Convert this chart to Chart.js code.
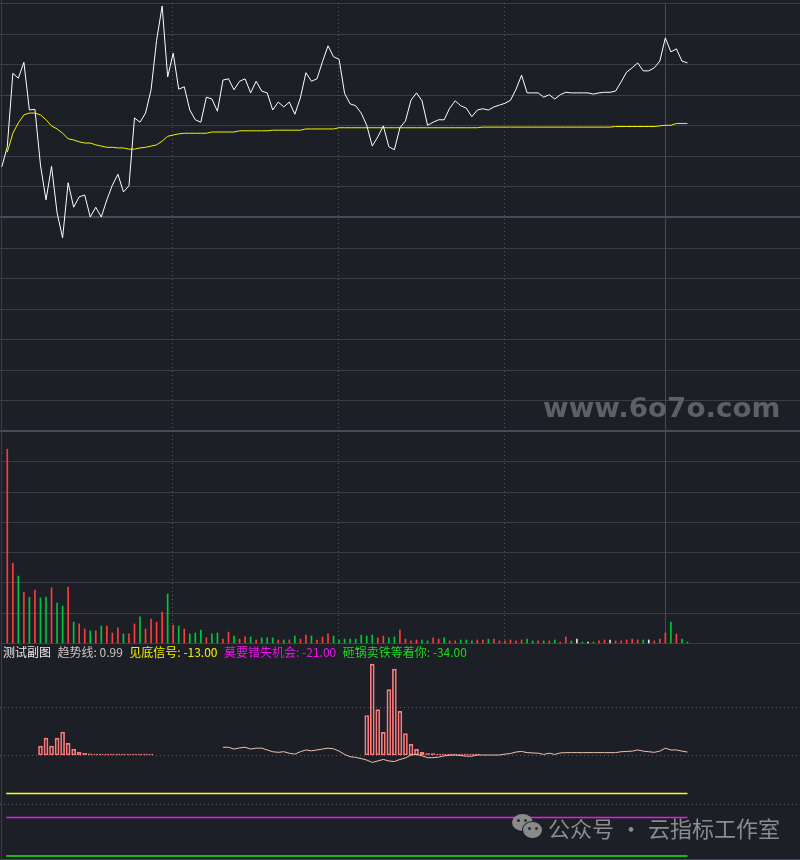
<!DOCTYPE html>
<html lang="zh">
<head>
<meta charset="utf-8">
<title>测试副图</title>
<script src="https://cdn.jsdelivr.net/npm/chart.js@4.4.1/dist/chart.umd.min.js"></script>
<style>
  html, body { margin: 0; padding: 0; background: #1c1f26; }
  #wrap { position: relative; width: 800px; height: 860px; overflow: hidden; background: #1c1f26; }
  canvas { position: absolute; left: 0; }
  #head { position: absolute; left: 3px; top: 645px; font: 12px "Noto Sans CJK SC", "Noto Sans", sans-serif; line-height: 14px; white-space: nowrap; }
  #head span { margin-right: 6.5px; }
  #site { position: absolute; left: 543px; top: 393px; font: bold 26px "DejaVu Sans", sans-serif; color: #5e6064; white-space: nowrap; transform-origin: 0 0; line-height: 30px; }
  #wx { position: absolute; left: 548px; top: 815px; font: 22px "Noto Sans CJK SC", sans-serif; color: #8c8c8c; white-space: nowrap; line-height: 24px; }
  .bub { position: absolute; border-radius: 50%; background: #8a8a8a; }
  .eye { position: absolute; width: 3px; height: 3px; border-radius: 50%; background: #2a2c31; }
</style>
</head>
<body>
<div id="wrap">
  <canvas id="main" width="800" height="432" style="top:0"></canvas>
  <canvas id="vol" width="800" height="213" style="top:431px"></canvas>
  <canvas id="ind" width="800" height="216" style="top:644px"></canvas>
  <div id="head"></div>
  <div id="site">www.6o7o.com</div>
  <div class="bub" style="left:512px;top:814px;width:21px;height:17px"></div>
  <div class="eye" style="left:517px;top:819px"></div>
  <div class="eye" style="left:524px;top:819px"></div>
  <div class="bub" style="left:522px;top:821px;width:19px;height:16px;border:1.5px solid #1c1f26"></div>
  <div class="eye" style="left:528px;top:827px"></div>
  <div class="eye" style="left:535px;top:827px"></div>
  <div id="wx">公众号<span style="margin:0 6px">·</span>云指标工作室</div>
</div>

<script>
// price change in %, first value is the auction point (index -1)
var price = [0.82,
    1.15, 2.35, 2.27, 2.53, 1.75, 1.76, 0.85, 0.28, 0.83, 0.07,
    -0.34, 0.56, 0.16, 0.33, 0.36, 0.00, 0.16, 0.00, 0.28, 0.52,
    0.70, 0.41, 0.51, 1.62, 1.55, 1.70, 2.08, 2.89, 3.45, 2.29,
    2.68, 2.09, 2.13, 1.75, 1.59, 1.55, 1.96, 1.93, 1.73, 2.24,
    2.26, 2.08, 2.22, 2.26, 2.03, 2.22, 2.06, 2.03, 1.75, 1.88,
    1.80, 1.88, 1.68, 1.95, 2.36, 2.22, 2.26, 2.54, 2.80, 2.62,
    2.58, 2.02, 1.85, 1.82, 1.70, 1.50, 1.16, 1.31, 1.49, 1.15,
    1.10, 1.46, 1.57, 1.91, 2.03, 1.90, 1.50, 1.55, 1.59, 1.59,
    1.78, 1.90, 1.82, 1.78, 1.64, 1.75, 1.77, 1.75, 1.80, 1.83,
    1.86, 1.91, 2.09, 2.32, 2.03, 2.03, 2.03, 1.96, 2.00, 1.93,
    2.00, 2.04, 2.03, 2.03, 2.03, 2.03, 2.01, 2.03, 2.04, 2.04,
    2.06, 2.21, 2.37, 2.44, 2.52, 2.39, 2.39, 2.44, 2.55, 2.93,
    2.70, 2.75, 2.55, 2.52];

var avgPrice = [
    1.06, 1.37, 1.54, 1.67, 1.70, 1.70, 1.67, 1.59, 1.49, 1.44,
    1.37, 1.28, 1.26, 1.23, 1.21, 1.21, 1.18, 1.16, 1.14, 1.14,
    1.13, 1.13, 1.11, 1.11, 1.13, 1.14, 1.16, 1.18, 1.24, 1.32,
    1.34, 1.36, 1.37, 1.37, 1.37, 1.37, 1.37, 1.39, 1.39, 1.39,
    1.39, 1.39, 1.41, 1.41, 1.41, 1.41, 1.41, 1.41, 1.42, 1.42,
    1.42, 1.42, 1.42, 1.42, 1.44, 1.44, 1.44, 1.44, 1.44, 1.44,
    1.46, 1.46, 1.46, 1.46, 1.46, 1.46, 1.46, 1.46, 1.46, 1.46,
    1.46, 1.46, 1.46, 1.46, 1.46, 1.46, 1.46, 1.46, 1.46, 1.46,
    1.46, 1.46, 1.46, 1.46, 1.46, 1.46, 1.47, 1.47, 1.47, 1.47,
    1.47, 1.47, 1.47, 1.47, 1.47, 1.47, 1.47, 1.47, 1.47, 1.47,
    1.47, 1.47, 1.47, 1.47, 1.47, 1.47, 1.47, 1.47, 1.47, 1.47,
    1.48, 1.48, 1.48, 1.48, 1.48, 1.48, 1.48, 1.48, 1.49, 1.50,
    1.50, 1.53, 1.53, 1.53];

var volume = [
    6400, 2630, 2210, 1670, 1510, 1750, 1490, 1520, 1820, 1320,
    1220, 1850, 690, 630, 460, 400, 400, 560, 560, 330,
    500, 300, 300, 630, 860, 460, 790, 690, 1020, 1620,
    590, 560, 460, 300, 330, 430, 170, 300, 330, 130,
    360, 230, 130, 200, 200, 100, 170, 170, 170, 100,
    100, 100, 230, 130, 260, 230, 100, 200, 300, 230,
    100, 130, 130, 130, 260, 230, 260, 170, 230, 170,
    200, 430, 130, 70, 100, 100, 70, 170, 130, 170,
    70, 70, 100, 100, 70, 100, 100, 130, 130, 70,
    70, 100, 70, 100, 130, 70, 70, 70, 70, 100,
    30, 200, 70, 130, 30, 30, 30, 70, 100, 100,
    70, 70, 100, 130, 100, 100, 100, 70, 130, 330,
    690, 300, 130, 30];

// r = up, g = down, w = flat
var volDir = "rrgrgrggrg" + "grgrrgrgrr" + "rgrrgrrrrg" + "rgrgggrggr" + "rgrrgrgggr" +
             "grgrrgrrrg" + "gggggggrrg" + "grrrrggrrg" + "rrgggrrgrr" + "rrrrggrgrg" +
             "rrgwgwgrrw" + "rrrrrgwrrr" + "grgg";

// 趋势线 from bar 39 on
var trendStart = 39;
var trend = [
    2.6, 2.6, 2.0, 2.4, 2.6, 2.0, 2.3, 2.3, 1.7, 1.1,
    0.9, 1.1, 0.6, 0.3, 1.1, 1.7, 1.4, 1.7, 2.0, 2.3,
    2.1, 1.3, 0.2, -0.6, -0.8, -1.2, -1.7, -2.5, -2.0, -1.5,
    -2.0, -2.2, -1.5, -1.0, 0.0, 0.2, -0.3, -0.9, -0.9, -0.7,
    -0.3, -0.1, 0.0, -0.2, -0.4, -0.4, 0.0, 0.0, 0.0, 0.0,
    0.0, 0.3, 0.5, 1.0, 1.2, 0.8, 0.7, 0.6, 0.2, 0.6,
    0.2, 0.7, 0.8, 0.8, 0.8, 0.8, 0.8, 0.8, 0.8, 0.8,
    0.8, 0.8, 1.1, 1.2, 1.3, 1.7, 1.3, 1.1, 0.9, 1.3,
    2.3, 1.7, 1.7, 1.3, 0.99];

// signal bars, two runs
var signalStartA = 6;
var signalA = [3.0, 5.7, 3.0, 5.7, 7.7, 3.9, 2.0, 1.0, 0.6, 0.4,
               0.3, 0.3, 0.3, 0.3, 0.3, 0.3, 0.3, 0.3, 0.3, 0.3, 0.3];
var signalStartB = 65;
var signalB = [13.3, 30.6, 15.3, 7.6, 22.0, 28.9, 14.7, 7.2, 3.6, 1.9, 0.9,
               0.5, 0.5, 0.3, 0.3, 0.3, 0.3, 0.3, 0.3, 0.3, 0.3];

var levelNames = ["见底信号", "莫要错失机会", "砸锅卖铁等着你"];
var levelValues = [-13, -21, -34];
var levelColors = ["#ffff00", "#f014f0", "#12f012"];
var levelTextColors = ["#f2f200", "#ee10ee", "#1ed81e"];

var X_MIN = -1.32, X_MAX = 143.35;
var GRID = "#383d48", GRID2 = "#454b57", DOT = "#565b66";
var dirColor = { r: "#ff3b3b", g: "#00c63c", w: "#e6e6e6" };

Chart.defaults.animation = false;

function gridPlugin(cfg) {
    return {
        id: "grid",
        beforeDatasetsDraw: function(chart) {
            var ctx = chart.ctx, a = chart.chartArea;
            var x = chart.scales.x, y = chart.scales.y;
            ctx.save();
            (cfg.h || []).forEach(function(g) {
                var py = Math.round(y.getPixelForValue(g.v)) + (g.w === 1 ? 0.5 : 0);
                ctx.beginPath();
                ctx.lineWidth = g.w; ctx.strokeStyle = g.c;
                ctx.setLineDash(g.dash || []);
                ctx.moveTo(a.left, py); ctx.lineTo(a.right, py);
                ctx.stroke();
            });
            (cfg.v || []).forEach(function(g) {
                var px = Math.round(x.getPixelForValue(g.v)) + 0.5;
                var top = g.from !== undefined ? y.getPixelForValue(g.from) : a.top;
                var bot = g.to !== undefined ? y.getPixelForValue(g.to) : a.bottom;
                ctx.beginPath();
                ctx.lineWidth = 1; ctx.strokeStyle = g.c;
                ctx.setLineDash(g.dash || []);
                ctx.moveTo(px, top); ctx.lineTo(px, bot);
                ctx.stroke();
            });
            // left frame
            ctx.setLineDash([]);
            ctx.beginPath(); ctx.strokeStyle = GRID; ctx.lineWidth = 1;
            ctx.moveTo(1.5, a.top); ctx.lineTo(1.5, a.bottom); ctx.stroke();
            ctx.restore();
        }
    };
}

function baseOptions(ymin, ymax) {
    return {
        responsive: false,
        animation: false,
        events: [],
        layout: { padding: 0 },
        plugins: { legend: { display: false }, tooltip: { enabled: false } },
        scales: {
            x: { type: "linear", min: X_MIN, max: X_MAX, display: false, offset: false },
            y: { type: "linear", min: ymin, max: ymax, display: false }
        }
    };
}

var timeLines = [29.8, 59.8, 89.8];

// ---- main price panel
var mainH = [];
for (var i = -7; i <= 7; i++) {
    var v = i * 0.5;
    mainH.push(i === 0 || i === -7 ? { v: v, w: 2, c: GRID2 } : { v: v, w: 1, c: GRID });
}
var mainV = timeLines.map(function(k) { return { v: k, c: DOT, dash: [1, 3], from: 3.5, to: -3.5 }; });
mainV.push({ v: 119, c: "#454b56", from: 3.5, to: -3.5 });

new Chart(document.getElementById("main"), {
    type: "line",
    data: {
        datasets: [{
            data: price.map(function(v, i) { return { x: i - 1, y: v }; }),
            borderColor: "#ffffff", borderWidth: 1, pointRadius: 0, tension: 0
        }, {
            data: avgPrice.map(function(v, i) { return { x: i, y: v }; }),
            borderColor: "#f4f400", borderWidth: 1, pointRadius: 0, tension: 0
        }]
    },
    options: baseOptions(-3.516, 3.549),
    plugins: [gridPlugin({ h: mainH, v: mainV })]
});

// ---- volume panel
var volH = [];
for (var j = 0; j <= 6; j++) volH.push({ v: j * 1000, w: 1, c: GRID });
var volV = timeLines.map(function(k) { return { v: k, c: DOT, dash: [1, 3] }; });
volV.push({ v: 119, c: "#454b56" });

new Chart(document.getElementById("vol"), {
    type: "bar",
    data: {
        datasets: [{
            data: volume.map(function(v, i) { return { x: i, y: v }; }),
            backgroundColor: volume.map(function(v, i) { return dirColor[volDir[i]]; }),
            barThickness: 1, borderWidth: 0
        }]
    },
    options: baseOptions(-33, 7000),
    plugins: [gridPlugin({ h: volH, v: volV })]
});

// ---- indicator panel
var signal = [];
signalA.forEach(function(v, i) { signal.push({ x: signalStartA + i, y: v }); });
signalB.forEach(function(v, i) { signal.push({ x: signalStartB + i, y: v }); });

var indDatasets = [{
    type: "line",
    data: trend.map(function(v, i) { return { x: trendStart + i, y: v }; }),
    borderColor: "#efc2b0", borderWidth: 1, pointRadius: 0, tension: 0, order: 0
}, {
    type: "bar",
    data: signal,
    backgroundColor: "rgba(0,0,0,0)", borderColor: "#ff7b7b", borderWidth: 1,
    borderSkipped: false, barThickness: 4, order: 2
}];
levelValues.forEach(function(lv, i) {
    indDatasets.push({
        type: "line",
        data: [{ x: -0.2, y: lv }, { x: 123, y: lv }],
        borderColor: levelColors[i], borderWidth: 1.5, pointRadius: 0, order: 1
    });
});

new Chart(document.getElementById("ind"), {
    type: "bar",
    data: { datasets: indDatasets },
    options: baseOptions(-35.35, 37.37),
    plugins: [gridPlugin({
        h: [{ v: 16, w: 1, c: DOT, dash: [1, 3] },
            { v: 0, w: 1, c: DOT, dash: [1, 3] },
            { v: -16.5, w: 1, c: DOT, dash: [1, 3] },
            { v: -34.9, w: 1, c: GRID2 }]
    })]
});

// ---- header texts
var head = document.getElementById("head");
function addSpan(text, color) {
    var s = document.createElement("span");
    s.textContent = text; s.style.color = color;
    head.appendChild(s);
}
addSpan("测试副图", "#e8e8e8");
addSpan("趋势线: " + trend[trend.length - 1].toFixed(2), "#cfc4c0");
levelNames.forEach(function(n, i) { addSpan(n + ": " + levelValues[i].toFixed(2), levelTextColors[i]); });

var site = document.getElementById("site");
site.style.transform = "scaleX(" + (237 / site.offsetWidth) + ")";
</script>
</body>
</html>
